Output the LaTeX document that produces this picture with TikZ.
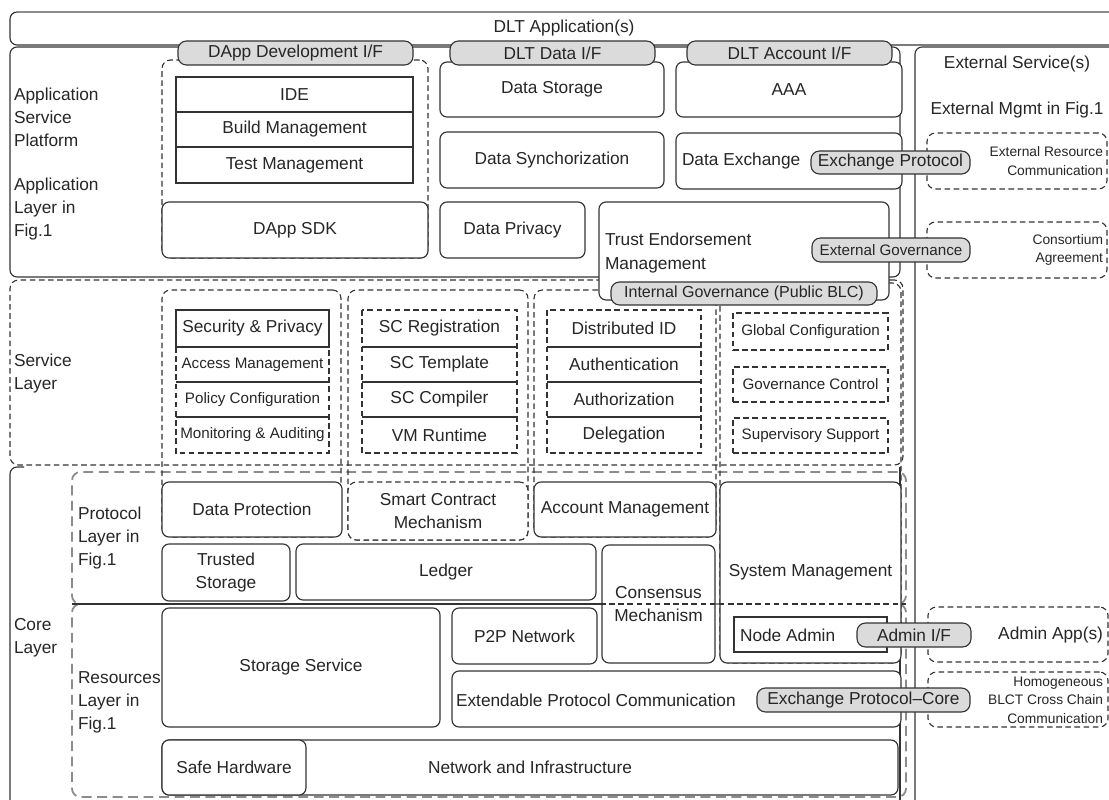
\documentclass[tikz,border=0pt]{standalone}
\usepackage{fontspec}
\setmainfont{Liberation Sans}

\begin{document}
\begin{tikzpicture}[x=0.025cm,y=-0.025cm,line width=0.8pt,
  sz/.style 2 args={minimum width=#1*0.025cm,minimum height=#2*0.025cm},
  txt/.style={inner sep=0pt,outer sep=0pt,align=center,text=black!85,font=\fontsize{12.3}{16.4}\selectfont},
  sm/.style={font=\fontsize{10.8}{13.5}\selectfont},
  xs/.style={font=\fontsize{9.8}{13.2}\selectfont},
  dsh/.style={draw=black!80,dash pattern=on 4pt off 2.5pt},
  box/.style={txt,draw=black!80,fill=white,rounded corners=5pt},
  sq/.style={txt,draw=black!80,fill=white},
  grp/.style={txt,dsh,rounded corners=6pt},
  lyr/.style={txt,draw=black!45,line width=1.3pt,dash pattern=on 7pt off 4pt,rounded corners=6pt},
  tab/.style={txt,draw=black!80,fill=black!14,rounded corners=6pt},
  lbl/.style={txt,align=left,anchor=west}]
\useasboundingbox (0,0) rectangle (1109,800);

% outer frames
\node[box,sz={1108}{33}] (dlt) at (564,28.5) {DLT Application(s)};
\draw[black!45,line width=1.4pt] ([xshift=6pt]dlt.north west) -- (dlt.north east);
\node[box,sz={890}{230}] (asp) at (455,162) {};
\node[box,sz={215}{773}] (ext) at (1022.5,433.5) {};
\node[txt] (extsvc) at (1017,64) {External Service(s)};
\node[txt] (extmgmt) at (1017,110) {External Mgmt in Fig.1};

% layers
\node[grp,sz={893}{185}] (svc) at (456.5,372.5) {};
\draw[black!80,rounded corners=5pt] (24,467) -- (10,467) -- (10,815);
\draw[black!80] (900,467) -- (900,815);
\node[lyr,sz={834}{132}] (prot) at (489,538) {};
\node[lyr,sz={834}{193}] (res) at (489,700.5) {};

% column groups
\node[grp,sz={266}{198}] (gdapp) at (295,159) {};
\node[grp,sz={179}{247}] (gsec) at (251.5,413.5) {};
\node[grp,sz={180}{250}] (gsc) at (438,415) {};
\node[grp,sz={182}{247}] (gacc) at (625,413.5) {};
\node[grp,sz={181}{380}] (ggov) at (810.5,473) {};

% application service platform
\node[sq,sz={237}{35}] (ide) at (294.5,94.5) {IDE};
\node[sq,sz={237}{35}] (build) at (294.5,129.5) {Build Management};
\node[sq,sz={237}{36}] (test) at (294.5,165) {Test Management};
\node[box,sz={266}{56}] (sdk) at (295,230) {DApp SDK};
\node[box,sz={224}{55}] (dstore) at (552,89.5) {Data Storage};
\node[box,sz={226}{55}] (aaa) at (789,89.5) {AAA};
\node[box,sz={224}{56}] (dsync) at (552,160) {Data Synchorization};
\node[box,sz={226}{56}] (dexch) at (789,161) {};
\node[txt,anchor=west] (dexcht) at (682,161) {Data Exchange};
\node[box,sz={145}{56}] (dpriv) at (512.5,230) {Data Privacy};
\node[box,sz={290}{98}] (trust) at (744,251) {};
\node[lbl] (trustt) at (605,253) {Trust Endorsement\\Management};

% service layer
\node[sq,sz={153}{37}] (secp) at (252.5,328.5) {Security \& Privacy};
\node[txt,sm,sz={153}{35}] (accm) at (252.5,364.5) {Access Management};
\node[txt,sm,sz={153}{35}] (polc) at (252.5,399.5) {Policy Configuration};
\node[txt,sm,sz={153}{36}] (moni) at (252.5,435) {Monitoring \& Auditing};
\draw[dsh] (accm.north west) rectangle (moni.south east);
\draw[black!80] (accm.south west) -- (accm.south east) (polc.south west) -- (polc.south east);

\node[txt,sz={155}{37}] (screg) at (439.5,328.5) {SC Registration};
\node[txt,sz={155}{35}] (sctpl) at (439.5,364.5) {SC Template};
\node[txt,sz={155}{35}] (sccmp) at (439.5,399.5) {SC Compiler};
\node[txt,sz={155}{36}] (vmrt) at (439.5,435) {VM Runtime};
\draw[dsh] (screg.north west) rectangle (vmrt.south east);
\draw[black!80] (screg.south west) -- (screg.south east) (sctpl.south west) -- (sctpl.south east)
  (sccmp.south west) -- (sccmp.south east);

\node[txt,sz={154}{37}] (did) at (624,328.5) {Distributed ID};
\node[txt,sz={154}{35}] (authn) at (624,364.5) {Authentication};
\node[txt,sz={154}{35}] (authz) at (624,399.5) {Authorization};
\node[txt,sz={154}{36}] (deleg) at (624,435) {Delegation};
\draw[dsh] (did.north west) rectangle (deleg.south east);
\draw[black!80] (did.south west) -- (did.south east) (authn.south west) -- (authn.south east)
  (authz.south west) -- (authz.south east);

\node[txt,sm,dsh,sz={155}{37}] (glob) at (810.5,331.5) {Global Configuration};
\node[txt,sm,dsh,sz={155}{35}] (govc) at (810.5,384.5) {Governance Control};
\node[txt,sm,dsh,sz={155}{35}] (supv) at (810.5,435.5) {Supervisory Support};

% core layer
\node[box,sz={180}{55}] (dprot) at (252,509.5) {Data Protection};
\node[grp,fill=white,sz={180}{58}] (scm) at (438,511) {Smart Contract\\Mechanism};
\node[box,sz={182}{55}] (accmg) at (625,509.5) {Account Management};
\node[box,sz={181}{181}] (sysm) at (810.5,572.5) {System Management};
\node[box,sz={128}{57}] (tstor) at (226,572.5) {Trusted\\Storage};
\node[box,sz={300}{56}] (ledger) at (446,572) {Ledger};
\node[box,sz={113}{118}] (cons) at (658.5,604) {Consensus\\Mechanism};
\node[box,sz={278}{119}] (stsvc) at (301,667.5) {Storage Service};
\node[box,sz={145}{56}] (p2p) at (524.5,636) {P2P Network};
\node[sq,sz={153}{35}] (nadm) at (810.5,634.5) {};
\node[txt,anchor=west] (nadmt) at (740,635) {Node Admin};
\node[box,sz={449}{56}] (extp) at (676.5,699) {};
\node[txt,anchor=west] (extpt) at (456,700) {Extendable Protocol Communication};
\node[box,sz={736}{55}] (netw) at (530,767.5) {Network and Infrastructure};
\node[box,sz={144}{55}] (safe) at (234,767.5) {Safe Hardware};
\coordinate (cut) at (600,604);
\draw[black!80] (res.north west) -- (cut);
\draw[dsh] (cut) -- (res.north east);

% external side
\node[grp,fill=white,sz={180}{56}] (erc) at (1017,161) {};
\node[txt,xs,align=right,anchor=east] (erct) at (1103,161) {External Resource\\Communication};
\node[grp,fill=white,sz={180}{56}] (cagr) at (1017,250) {};
\node[txt,xs,align=right,anchor=east] (cagrt) at (1103,250) {Consortium\\Agreement};
\node[grp,fill=white,sz={180}{55}] (adapp) at (1018,634.5) {};
\node[txt,align=right,anchor=east] (adappt) at (1103,635) {Admin App(s)};
\node[grp,fill=white,sz={180}{55}] (homo) at (1018,699.5) {};
\node[txt,xs,align=right,anchor=east] (homot) at (1103,700) {Homogeneous\\BLCT Cross Chain\\Communication};

% layer labels
\node[lbl] (lasp) at (14,117) {Application\\Service\\Platform};
\node[lbl] (lal) at (14,209) {Application\\Layer in\\Fig.1};
\node[lbl] (lsvc) at (14,373.5) {Service\\Layer};
\node[lbl] (lcore) at (14,637.5) {Core\\Layer};
\node[lbl] (lprot) at (78,538) {Protocol\\Layer in\\Fig.1};
\node[lbl] (lres) at (78,702) {Resources\\Layer in\\Fig.1};

% interfaces
\node[tab,sz={235}{24}] (tdapp) at (295.5,53) {DApp Development I/F};
\node[tab,sz={205}{24}] (tdata) at (552.5,53) {DLT Data I/F};
\node[tab,sz={205}{24}] (tacct) at (789.5,53) {DLT Account I/F};
\node[tab,sz={159}{23}] (texch) at (890.5,162.5) {Exchange Protocol};
\node[tab,sm,sz={158}{24}] (textg) at (891,250) {External Governance};
\node[tab,font=\fontsize{11.4}{14}\selectfont,sz={266}{23}] (tintg) at (744,293.5) {Internal Governance (Public BLC)};
\node[tab,sz={114}{24}] (tadm) at (914,635) {Admin I/F};
\node[tab,sz={213}{24}] (texcc) at (863.5,700) {Exchange Protocol--Core};
\end{tikzpicture}
\end{document}
